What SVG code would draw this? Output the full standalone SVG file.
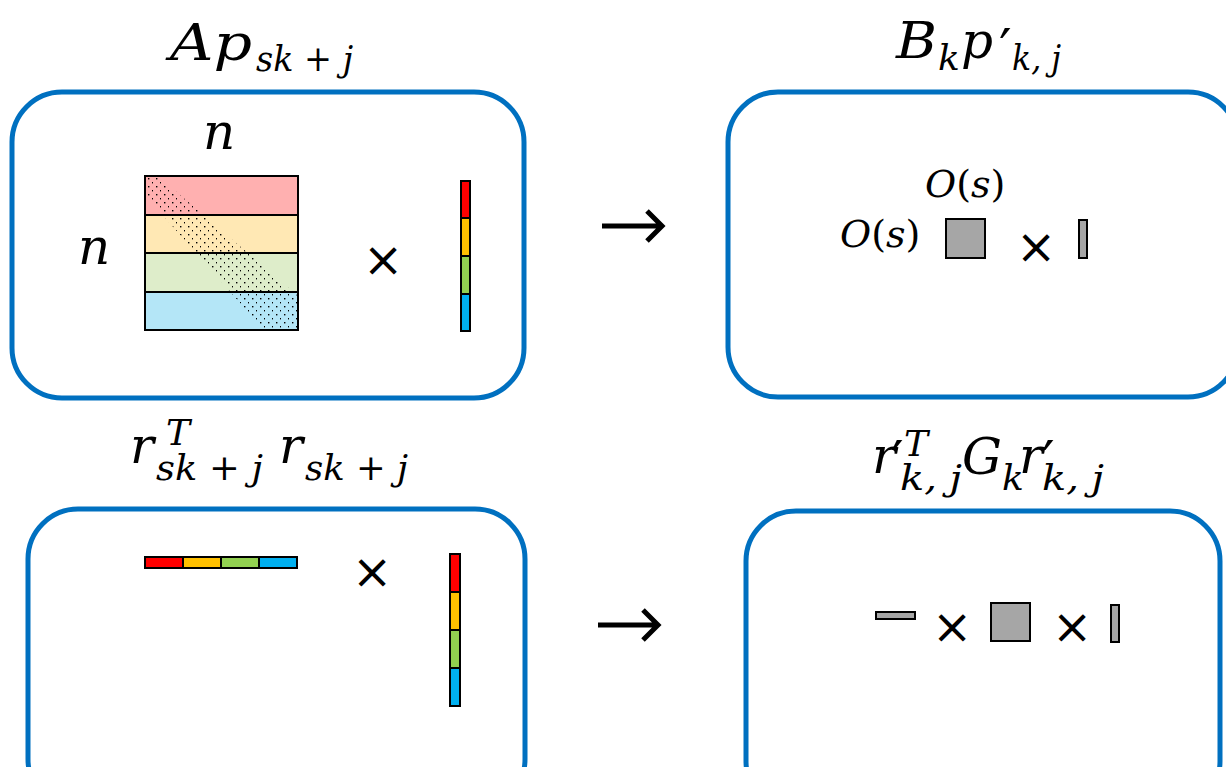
<svg xmlns="http://www.w3.org/2000/svg" width="1226" height="767" viewBox="0 0 1226 767">
<style>
.box{fill:#fff;stroke:#0070C0;stroke-width:5}
.m{font-family:"DejaVu Serif","Liberation Serif",serif;font-style:italic;fill:#000;font-size:50px}
.up{font-style:normal}
.s{font-size:36px}
.o{font-size:38px}
.pr{font-family:"DejaVu Sans",sans-serif;font-style:normal;font-size:56px}
.g{fill:#A6A6A6;stroke:#000;stroke-width:2}
.cell{stroke:#000;stroke-width:2}
.x{font-family:"DejaVu Sans",sans-serif;fill:#000;font-size:48px}
.arr{fill:none;stroke:#000;stroke-width:5}
</style>
<defs>
<pattern id="dots" width="8" height="8" patternUnits="userSpaceOnUse" x="145" y="176">
<rect x="3" y="2" width="1.4" height="1.4" fill="#000"/>
<rect x="7" y="6" width="1.4" height="1.4" fill="#000"/>
</pattern>
<clipPath id="band"><polygon points="145,176 158,176 298,296 298,330 264,330 145,195"/></clipPath>
</defs>
<g id="node-Ap">
<rect class="box" x="12" y="92" width="512" height="306" rx="50"/>
<text class="m" x="170" y="60" textLength="82" lengthAdjust="spacingAndGlyphs">Ap</text>
<text class="m s" x="256" y="71" textLength="97" lengthAdjust="spacingAndGlyphs">sk + j</text>
<text class="m" x="203" y="149" font-size="46">n</text>
<text class="m" x="78" y="264" font-size="46">n</text>
<rect x="145" y="176" width="153" height="39" fill="#FFB0B0"/>
<rect x="145" y="215" width="153" height="38" fill="#FFE8B4"/>
<rect x="145" y="253" width="153" height="39" fill="#DEEDCA"/>
<rect x="145" y="292" width="153" height="38" fill="#B4E6F7"/>
<rect x="145" y="176" width="153" height="154" fill="url(#dots)" clip-path="url(#band)"/>
<g fill="none" class="cell">
<rect x="145" y="176" width="153" height="39"/>
<rect x="145" y="215" width="153" height="38"/>
<rect x="145" y="253" width="153" height="39"/>
<rect x="145" y="292" width="153" height="38"/>
</g>
<text class="x" x="383" y="276" text-anchor="middle">×</text>
<g class="cell">
<rect x="461" y="181" width="9" height="37" fill="#FF0000"/>
<rect x="461" y="218" width="9" height="38" fill="#FFC000"/>
<rect x="461" y="256" width="9" height="38" fill="#92D050"/>
<rect x="461" y="294" width="9" height="37" fill="#00B0F0"/>
</g>
</g>
<g id="node-Bp">
<rect class="box" x="728" y="92" width="510" height="305" rx="50"/>
<text class="m" x="896" y="58"><tspan textLength="41" lengthAdjust="spacingAndGlyphs">B</tspan><tspan class="s" x="938" y="70">k</tspan><tspan x="961" y="58">p</tspan><tspan class="pr" x="999" y="68">′</tspan><tspan class="s" x="1012" y="70" textLength="49" lengthAdjust="spacingAndGlyphs">k, j</tspan></text>
<text class="m o" x="925" y="197">O<tspan class="up">(</tspan>s<tspan class="up">)</tspan></text>
<text class="m o" x="840" y="247">O<tspan class="up">(</tspan>s<tspan class="up">)</tspan></text>
<rect class="g" x="946" y="219" width="39" height="39"/>
<text class="x" x="1036" y="263" text-anchor="middle">×</text>
<rect class="g" x="1079" y="220" width="8" height="38"/>
</g>
<g id="node-rr">
<rect class="box" x="28" y="509" width="497" height="300" rx="50"/>
<text class="m" x="130" y="463">r<tspan class="s" x="166" y="445">T</tspan><tspan class="s" x="156" y="480" textLength="107" lengthAdjust="spacingAndGlyphs">sk + j</tspan><tspan x="279" y="463">r</tspan><tspan class="s" x="305" y="480" textLength="103" lengthAdjust="spacingAndGlyphs">sk + j</tspan></text>
<g class="cell">
<rect x="145" y="557" width="38" height="11" fill="#FF0000"/>
<rect x="183" y="557" width="38" height="11" fill="#FFC000"/>
<rect x="221" y="557" width="38" height="11" fill="#92D050"/>
<rect x="259" y="557" width="38" height="11" fill="#00B0F0"/>
</g>
<text class="x" x="372" y="588" text-anchor="middle">×</text>
<g class="cell">
<rect x="450" y="554" width="10" height="38" fill="#FF0000"/>
<rect x="450" y="592" width="10" height="38" fill="#FFC000"/>
<rect x="450" y="630" width="10" height="38" fill="#92D050"/>
<rect x="450" y="668" width="10" height="38" fill="#00B0F0"/>
</g>
</g>
<g id="node-rGr">
<rect class="box" x="746" y="511" width="474" height="300" rx="50"/>
<text class="m" x="872" y="473">r<tspan class="pr" x="891" y="480">′</tspan><tspan class="s" x="904" y="456">T</tspan><tspan class="s" x="900" y="490" textLength="62" lengthAdjust="spacingAndGlyphs">k, j</tspan><tspan x="962" y="474">G</tspan><tspan class="s" x="1002" y="490">k</tspan><tspan x="1019" y="473">r</tspan><tspan class="pr" x="1042" y="480">′</tspan><tspan class="s" x="1042" y="490" textLength="62" lengthAdjust="spacingAndGlyphs">k, j</tspan></text>
<rect class="g" x="876" y="612" width="39" height="7"/>
<text class="x" x="952" y="643" text-anchor="middle">×</text>
<rect class="g" x="991" y="603" width="39" height="38"/>
<text class="x" x="1072" y="643" text-anchor="middle">×</text>
<rect class="g" x="1111" y="605" width="8" height="37"/>
</g>
<g id="connectors">
<path class="arr" d="M602,226 H661 M647,211 L662,226 L647,241"/>
<path class="arr" d="M598,625 H657 M643,610 L658,625 L643,640"/>
</g>
</svg>
